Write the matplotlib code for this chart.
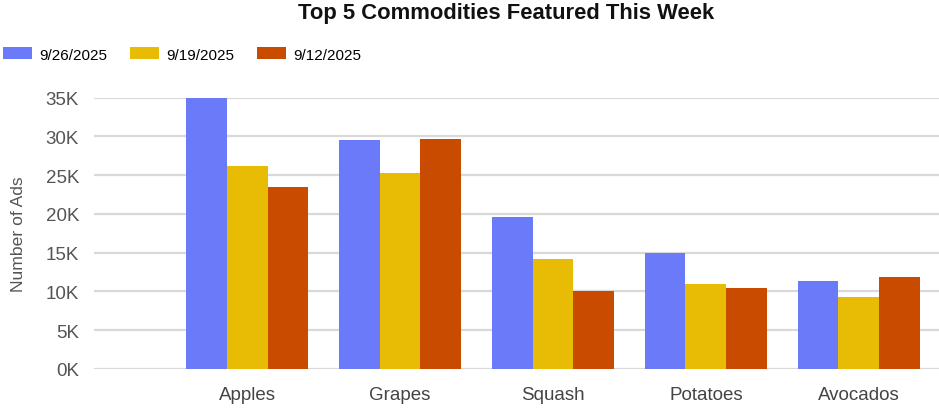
import matplotlib
matplotlib.use("Agg")
import matplotlib.pyplot as plt
import numpy as np
from matplotlib.patches import Patch

categories = ["Apples", "Grapes", "Squash", "Potatoes", "Avocados"]
weeks = ["9/26/2025", "9/19/2025", "9/12/2025"]
wk_0926 = [34900, 29500, 19550, 14950, 11400]
wk_0919 = [26250, 25250, 14200, 11000, 9250]
wk_0912 = [23500, 29700, 10050, 10400, 11850]
colors = ["#6b7af9", "#e8bb04", "#c84b00"]

plt.rcParams["font.family"] = ["Liberation Sans", "DejaVu Sans"]

fig = plt.figure(figsize=(9.39, 4.14), dpi=100)
ax = fig.add_axes([94.3 / 939, 1 - 370 / 414, 1 - 94.3 / 939, (370 - 98.7) / 414])

x = np.arange(len(categories))
w = 0.8 / 3
for i, vals in enumerate([wk_0926, wk_0919, wk_0912]):
    ax.bar(x + (i - 1) * w, vals, width=w, color=colors[i], zorder=3)

ax.set_xlim(-1.0, 4.525)
ax.set_ylim(0, 35000)
yt = np.arange(0, 35001, 5000)
ax.set_yticks(yt)
ax.set_yticklabels([f"{int(v / 1000)}K" for v in yt], fontsize=13.5, color="#555555")
ax.set_xticks(x)
ax.set_xticklabels(categories, fontsize=13.5, color="#444444")
ax.tick_params(axis="y", length=0, pad=11)
ax.tick_params(axis="x", length=0, pad=12)
ax.grid(axis="y", color="#d9d9d9", linewidth=1.6, zorder=0)
for s in ax.spines.values():
    s.set_visible(False)

ax.set_ylabel("Number of Ads", fontsize=12.6, color="#555555")
ax.yaxis.set_label_coords(-0.081, 0.5)

fig.text(506 / 939, 1 - 14 / 414, "Top 5 Commodities Featured This Week", ha="center", va="center",
         fontsize=15.8, fontweight="bold", color="#111111")

handles = [Patch(facecolor=c, edgecolor="none") for c in colors]
fig.legend(handles, weeks, loc="center left", bbox_to_anchor=(3 / 939, 1 - 55.5 / 414),
           ncol=3, frameon=False, fontsize=11, handlelength=1.9, handleheight=0.85,
           handletextpad=0.46, columnspacing=1.5, borderaxespad=0, borderpad=0)

fig.savefig("out.png", dpi=100)
plt.close(fig)
